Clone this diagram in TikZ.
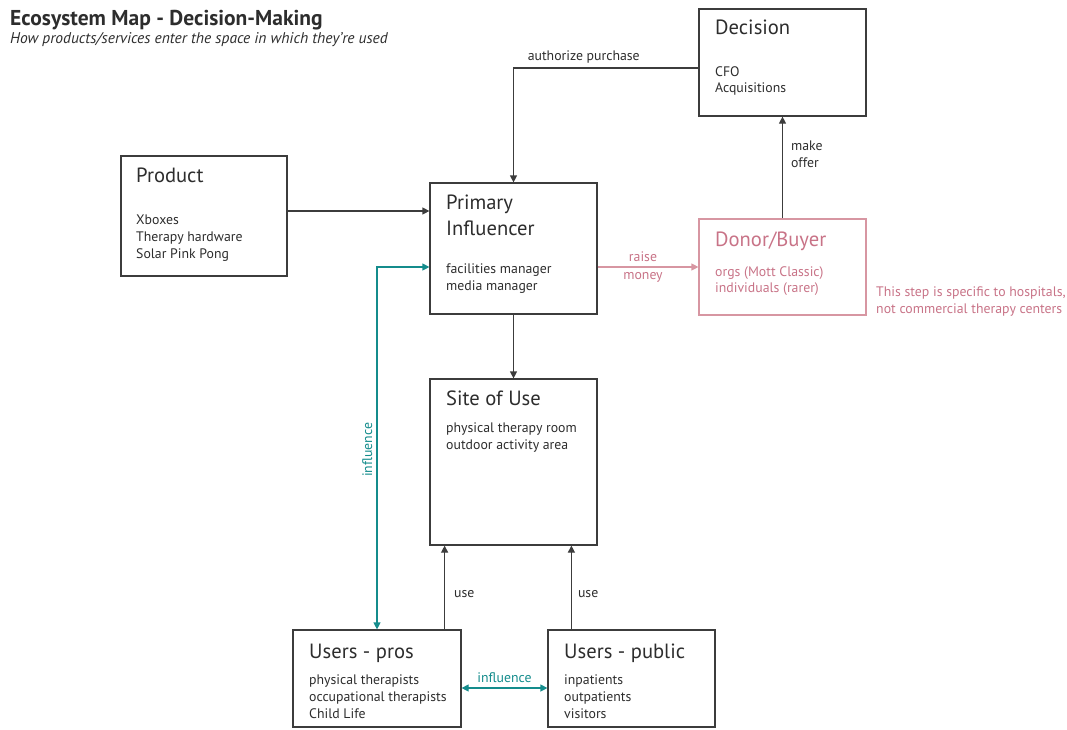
\documentclass[tikz,border=0pt]{standalone}
\usepackage{fontspec}
\setmainfont{PT Sans}
\usetikzlibrary{arrows.meta}
\definecolor{linec}{RGB}{60,60,60}
\definecolor{txt}{RGB}{45,45,45}
\definecolor{tealc}{RGB}{20,140,140}
\definecolor{pinkc}{RGB}{200,115,135}
\definecolor{pinkl}{RGB}{215,150,162}
\begin{document}
\begin{tikzpicture}[x=1pt,y=-1pt,
  box/.style={draw=linec,line width=1.2pt,inner sep=0pt},
  ttl/.style={anchor=north west,inner sep=0pt,align=left,text=txt,font=\fontsize{20.6}{26}\selectfont},
  body/.style={anchor=north west,inner sep=0pt,align=left,text=txt,font=\fontsize{13.8}{16.8}\selectfont},
  lbl/.style={text=txt,inner sep=0pt,font=\fontsize{13.8}{17}\selectfont},
  conn/.style={draw=linec,line width=1.2pt,-{Triangle[length=7pt,width=7pt]}},
  both/.style={draw=tealc,line width=1.2pt,{Triangle[length=7pt,width=7pt]}-{Triangle[length=7pt,width=7pt]}}]
\useasboundingbox (0,0) rectangle (1067,729);

% heading
\node[anchor=north west,inner sep=0pt,text=txt,font=\bfseries\fontsize{21.5}{24}\selectfont] (head) at (10,10) {Ecosystem Map - Decision-Making};
\node[anchor=north west,inner sep=0pt,text=txt,font=\itshape\fontsize{15.5}{18}\selectfont] (sub) at (10,32) {How products/services enter the space in which they're used};

% boxes
\node[box,minimum width=167pt,minimum height=107pt] (dec) at (782.5,62.5) {};
\node[box,minimum width=166pt,minimum height=120pt] (prod) at (204,216) {};
\node[box,minimum width=167pt,minimum height=131pt] (prim) at (513.5,248.5) {};
\node[box,draw=pinkl,minimum width=167pt,minimum height=96pt] (don) at (782.5,267) {};
\node[box,minimum width=167pt,minimum height=166pt] (site) at (513.5,462) {};
\node[box,minimum width=168pt,minimum height=97pt] (ppro) at (377,678.5) {};
\node[box,minimum width=167pt,minimum height=97pt] (ppub) at (631.5,678.5) {};

% box texts
\node[ttl] (dect) at (715,20) {Decision};
\node[body] (decb) at (715,66) {CFO\\Acquisitions};
\node[ttl] (prodt) at (136,168) {Product};
\node[body] (prodb) at (136,215) {Xboxes\\Therapy hardware\\Solar Pink Pong};
\node[ttl] (primt) at (446,195) {Primary\\Influencer};
\node[body] (primb) at (446,264) {facilities manager\\media manager};
\node[ttl,text=pinkc] (dont) at (715,232) {Donor/Buyer};
\node[body,text=pinkc] (donb) at (715,266) {orgs (Mott Classic)\\individuals (rarer)};
\node[body,text=pinkc] (note) at (876,287) {This step is specific to hospitals,\\not commercial therapy centers};
\node[ttl] (sitet) at (446,391) {Site of Use};
\node[body] (siteb) at (446,423) {physical therapy room\\outdoor activity area};
\node[ttl] (pprot) at (309,644) {Users - pros};
\node[body] (pprob) at (309,675) {physical therapists\\occupational therapists\\Child Life};
\node[ttl] (ppubt) at (564,644) {Users - public};
\node[body] (ppubb) at (564,675) {inpatients\\outpatients\\visitors};

% connectors
\draw[conn] ([yshift=-5.5pt]dec.west) -| (prim.north)
  node[lbl,pos=0.31,above=4pt] {authorize purchase};
\draw[conn] ([yshift=5pt]prod.east) -- ([yshift=5pt]prod.east -| prim.west);
\draw[conn] (prim.south) -- (site.north);
\draw[conn] (don.north) -- (dec.south)
  node[lbl,pos=0.63,right=8pt,align=left] {make\\offer};
\draw[conn,draw=pinkl] ([yshift=-18.5pt]prim.east) -- (don.west)
  node[lbl,midway,xshift=-5pt,align=center,text=pinkc,font=\fontsize{13.8}{18}\selectfont] {raise\\money};
\draw[conn] ([xshift=-17pt]ppro.north east) -- ([xshift=-17pt]ppro.north east |- site.south)
  node[lbl,pos=0.42,right=9pt] {use};
\draw[conn] ([xshift=24pt]ppub.north west) -- ([xshift=24pt]ppub.north west |- site.south)
  node[lbl,pos=0.42,right=6pt] {use};
\draw[both] (ppro.north) |- ([yshift=-18.5pt]prim.west)
  node[lbl,pos=0.248,rotate=90,anchor=south,inner sep=4pt,text=tealc] {influence};
\draw[both] ([yshift=-9.5pt]ppro.east) -- ([yshift=-9.5pt]ppro.east -| ppub.west)
  node[lbl,midway,above=5pt,text=tealc] {influence};
\end{tikzpicture}
\end{document}
